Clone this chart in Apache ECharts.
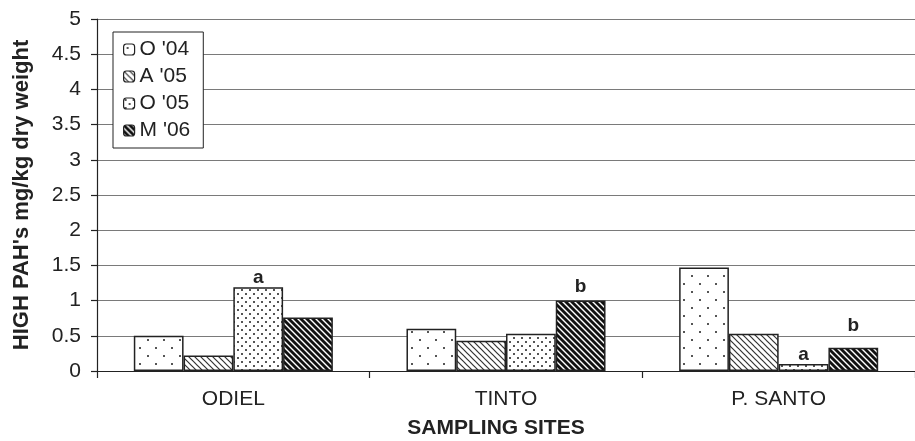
<!DOCTYPE html>
<html>
<head>
<meta charset="utf-8">
<script src="https://cdn.jsdelivr.net/npm/echarts@6/dist/echarts.min.js"></script>
<style>
  html, body { margin: 0; padding: 0; background: #fff; }
  #chart { width: 915px; height: 441px; }
</style>
</head>
<body>
<div id="chart"></div>
<script>
// Sampling sites and campaigns
const sites = ['ODIEL', 'TINTO', 'P. SANTO'];
const campaigns = ["O '04", "A '05", "O '05", "M '06"];

// High molecular weight PAH concentrations (mg/kg dry weight) per campaign
const valuesO04 = [0.50, 0.60, 1.47];
const valuesA05 = [0.22, 0.43, 0.53];
const valuesO05 = [1.19, 0.53, 0.10];
const valuesM06 = [0.76, 1.00, 0.33];

// Significance letters shown above bars ('' = none)
const lettersO05 = ['a', '', 'a'];
const lettersM06 = ['', 'b', 'b'];

const yTicks = { min: 0, max: 5, interval: 0.5 };

const FONT = "'Liberation Sans', Arial, sans-serif";

// Build a repeating fill pattern on a small canvas tile
function makePattern(kind) {
  const c = document.createElement('canvas');
  const ctx = c.getContext('2d');
  if (kind === 'sparseDots') {
    c.width = 16; c.height = 16;
    ctx.fillStyle = '#fff'; ctx.fillRect(0, 0, 16, 16);
    ctx.fillStyle = '#555';
    ctx.fillRect(3, 3, 2, 2);
    ctx.fillRect(11, 11, 2, 2);
  } else if (kind === 'denseDots') {
    c.width = 8; c.height = 8;
    ctx.fillStyle = '#fff'; ctx.fillRect(0, 0, 8, 8);
    ctx.fillStyle = '#555';
    ctx.fillRect(1, 1, 2, 2);
    ctx.fillRect(5, 5, 2, 2);
  } else {
    const s = 6;
    const w = kind === 'thinHatch' ? 1.2 : 2.8;
    const col = kind === 'thinHatch' ? '#333' : '#111';
    c.width = s; c.height = s;
    ctx.fillStyle = '#fff'; ctx.fillRect(0, 0, s, s);
    ctx.strokeStyle = col; ctx.lineWidth = w;
    for (let k = -1; k <= 1; k++) {
      ctx.beginPath();
      ctx.moveTo(k * s - 1, -1);
      ctx.lineTo(k * s + s + 1, s + 1);
      ctx.stroke();
    }
  }
  return { image: c, repeat: 'repeat' };
}

const fills = [
  makePattern('sparseDots'),
  makePattern('thinHatch'),
  makePattern('denseDots'),
  makePattern('thickHatch')
];

const seriesValues = [valuesO04, valuesA05, valuesO05, valuesM06];
const seriesLetters = [null, null, lettersO05, lettersM06];
// gap between a bar top and its letter
const letterDistance = [null, null, [0, 0, 0], [0, 4, 13]];

const series = campaigns.map((name, i) => ({
  name: name,
  type: 'bar',
  barGap: '0%',
  barCategoryGap: '27%',
  itemStyle: { color: fills[i], borderColor: '#222', borderWidth: 1.5 },
  emphasis: { disabled: true },
  data: seriesValues[i].map((v, j) => {
    const item = { value: v };
    const letters = seriesLetters[i];
    if (letters && letters[j]) {
      item.label = {
        show: true,
        position: 'top',
        distance: letterDistance[i][j],
        formatter: letters[j],
        fontFamily: FONT,
        fontWeight: 'bold',
        fontSize: 19,
        color: '#222'
      };
    }
    return item;
  })
}));

const chart = echarts.init(document.getElementById('chart'), null, { renderer: 'canvas' });
chart.setOption({
  animation: false,
  backgroundColor: '#fff',
  grid: { left: 97, top: 19, bottom: 70, right: -10 },
  legend: {
    orient: 'vertical',
    left: 113,
    top: 32,
    padding: [7, 13, 7, 10],
    itemGap: 6,
    itemWidth: 11,
    itemHeight: 11,
    backgroundColor: '#fff',
    borderColor: '#222',
    borderWidth: 1,
    textStyle: { fontFamily: FONT, fontSize: 21, color: '#222' },
    itemStyle: { borderColor: '#222', borderWidth: 1.2 },
    data: campaigns
  },
  xAxis: {
    type: 'category',
    data: sites,
    axisLine: { lineStyle: { color: '#222', width: 1.2 } },
    axisTick: { show: true, length: 7, lineStyle: { color: '#222', width: 1.2 } },
    axisLabel: { margin: 18, fontFamily: FONT, fontSize: 21, color: '#222' },
    splitLine: { show: false }
  },
  yAxis: {
    type: 'value',
    min: yTicks.min,
    max: yTicks.max,
    interval: yTicks.interval,
    name: "HIGH PAH's mg/kg dry weight",
    nameLocation: 'middle',
    nameGap: 64,
    nameTextStyle: { fontFamily: FONT, fontWeight: 'bold', fontSize: 22, color: '#222' },
    axisLine: { show: true, lineStyle: { color: '#222', width: 1.2 } },
    axisTick: { show: true, length: 6, lineStyle: { color: '#222', width: 1.2 } },
    axisLabel: { margin: 16, fontFamily: FONT, fontSize: 21, color: '#222' },
    splitLine: { show: true, lineStyle: { color: '#7a7a7a', width: 1.2 } }
  },
  graphic: [{
    type: 'text',
    x: 496,
    y: 428,
    style: {
      text: 'SAMPLING SITES',
      align: 'center',
      verticalAlign: 'middle',
      font: "bold 21px 'Liberation Sans', Arial, sans-serif",
      fill: '#222'
    }
  }],
  series: series
});
</script>
</body>
</html>
